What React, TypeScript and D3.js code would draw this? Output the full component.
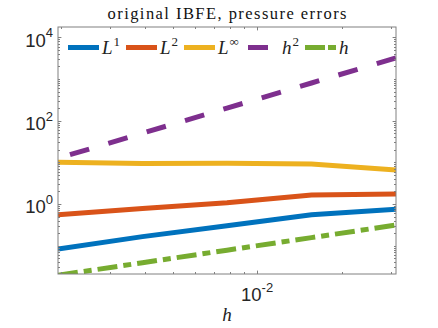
import * as d3 from "d3";

// mesh widths and error norms (pressure)
const hValues = [1 / 512, 1 / 256, 1 / 128, 1 / 64, 1 / 32];
const errL1 = [0.083, 0.165, 0.3, 0.55, 0.75];
const errL2 = [0.55, 0.78, 1.07, 1.64, 1.74];
const errLinf = [10.0, 9.4, 9.5, 9.1, 6.55];
const refH2 = [12.5, 50, 200, 800, 3200];
const refH = [0.0195, 0.039, 0.078, 0.156, 0.3125];
const yTickExps = [0, 2, 4];
const xTickExps = [-2];

const W = 438;
const H = 328;
const m = { left: 58, right: 396, top: 27, bottom: 274 };

const series = [
  { base: "L", sup: "1", values: errL1, color: "#0072BD", dash: "", offset: 0 },
  { base: "L", sup: "2", values: errL2, color: "#D95319", dash: "", offset: 0 },
  { base: "L", sup: "∞", values: errLinf, color: "#EDB120", dash: "", offset: 0 },
  { base: "h", sup: "2", values: refH2, color: "#7E2F8E", dash: "20 20", offset: 27.5 },
  { base: "h", sup: "", values: refH, color: "#77AC30", dash: "20 6 8 6", offset: 0 },
];

// legend layout: sample line start x for each entry
const legendX = [68, 126, 184, 248, 305];
const legendY = 47.5;

export default function App() {
  const x = d3.scaleLog().domain([1 / 512, 1 / 32]).range([m.left, m.right]);
  const y = d3.scaleLog().domain([0.0209, 17660]).range([m.bottom, m.top]);

  const line = d3
    .line<number>()
    .x((_, i) => x(hValues[i]))
    .y((d) => y(d));

  // tick marks (log minor ticks)
  const yTicks: { v: number; major: boolean }[] = [];
  for (let n = -2; n <= 4; n++) {
    for (let k = 1; k <= 9; k++) {
      const v = k * Math.pow(10, n);
      if (v >= y.domain()[0] && v <= y.domain()[1])
        yTicks.push({ v, major: k === 1 && yTickExps.includes(n) });
    }
  }
  const xTicks: { v: number; major: boolean }[] = [];
  for (let n = -3; n <= -1; n++) {
    for (let k = 1; k <= 9; k++) {
      const v = k * Math.pow(10, n);
      if (v >= x.domain()[0] * 0.999 && v <= x.domain()[1] * 1.001)
        xTicks.push({ v, major: k === 1 && xTickExps.includes(n) });
    }
  }

  const axisColor = "#808080";
  const tickFont = "'Liberation Sans', Arial, sans-serif";
  const serif = "'Liberation Serif', 'Times New Roman', serif";

  return (
    <svg
      width={W}
      height={H}
      style={{ position: "absolute", left: 0, top: 0, background: "#fff" }}
    >
      <defs>
        <clipPath id="plotclip">
          <rect x={m.left} y={m.top} width={m.right - m.left} height={m.bottom - m.top} />
        </clipPath>
      </defs>
      <rect width={W} height={H} fill="#fff" />

      {/* title */}
      <text
        x={(m.left + m.right) / 2}
        y={19}
        textAnchor="middle"
        fontFamily={serif}
        fontSize={16.5}
        fill="#111"
        textLength={239}
        lengthAdjust="spacing"
      >
        original IBFE, pressure errors
      </text>

      {/* data lines */}
      <g clipPath="url(#plotclip)">
        {series.map((s, i) => (
          <path
            key={i}
            d={line(s.values) || ""}
            fill="none"
            stroke={s.color}
            strokeWidth={5}
            strokeDasharray={s.dash || undefined}
            strokeDashoffset={s.offset}
          />
        ))}
      </g>

      {/* box */}
      <rect
        x={m.left}
        y={m.top}
        width={m.right - m.left}
        height={m.bottom - m.top}
        fill="none"
        stroke={axisColor}
        strokeWidth={1}
      />

      {/* y ticks */}
      {yTicks.map((t, i) => {
        const yy = Math.round(y(t.v)) + 0.5;
        const len = t.major ? 3.4 : 2;
        return (
          <g key={"y" + i} stroke={axisColor} strokeWidth={1}>
            <line x1={m.left} x2={m.left + len} y1={yy} y2={yy} />
            <line x1={m.right} x2={m.right - len} y1={yy} y2={yy} />
          </g>
        );
      })}
      {/* x ticks */}
      {xTicks.map((t, i) => {
        const xx = Math.round(x(t.v)) + 0.5;
        const len = t.major ? 3.4 : 2;
        return (
          <g key={"x" + i} stroke={axisColor} strokeWidth={1}>
            <line x1={xx} x2={xx} y1={m.bottom} y2={m.bottom - len} />
            <line x1={xx} x2={xx} y1={m.top} y2={m.top + len} />
          </g>
        );
      })}

      {/* y tick labels */}
      {yTickExps.map((e) => (
        <text
          key={"yl" + e}
          x={53}
          y={y(Math.pow(10, e)) + 9.5}
          textAnchor="end"
          fontFamily={tickFont}
          fontSize={18.5}
          fill="#262626"
        >
          10
          <tspan dy={-9.5} fontSize={13}>
            {e}
          </tspan>
        </text>
      ))}

      {/* x tick labels */}
      {xTickExps.map((e) => (
        <text
          key={"xl" + e}
          x={x(Math.pow(10, e))}
          y={301}
          textAnchor="middle"
          fontFamily={tickFont}
          fontSize={18.5}
          fill="#262626"
        >
          10
          <tspan dy={-9.5} fontSize={13}>
            {e}
          </tspan>
        </text>
      ))}

      {/* x label */}
      <text
        x={(m.left + m.right) / 2}
        y={321}
        textAnchor="middle"
        fontFamily={serif}
        fontStyle="italic"
        fontSize={19}
        fill="#222"
      >
        h
      </text>

      {/* legend */}
      {series.map((s, i) => {
        const x0 = legendX[i];
        return (
          <g key={"lg" + i}>
            <line
              x1={x0}
              x2={x0 + 31}
              y1={legendY}
              y2={legendY}
              stroke={s.color}
              strokeWidth={5}
              strokeDasharray={s.dash ? (i === 4 ? "20 3 8 3" : s.dash) : undefined}
            />
            <text
              x={x0 + 34}
              y={legendY + 6}
              fontFamily={serif}
              fontSize={19}
              fill="#222"
            >
              <tspan fontStyle="italic">{s.base}</tspan>
              {s.sup && (
                <tspan dx={1} dy={-8} fontSize={13}>
                  {s.sup}
                </tspan>
              )}
            </text>
          </g>
        );
      })}
    </svg>
  );
}
